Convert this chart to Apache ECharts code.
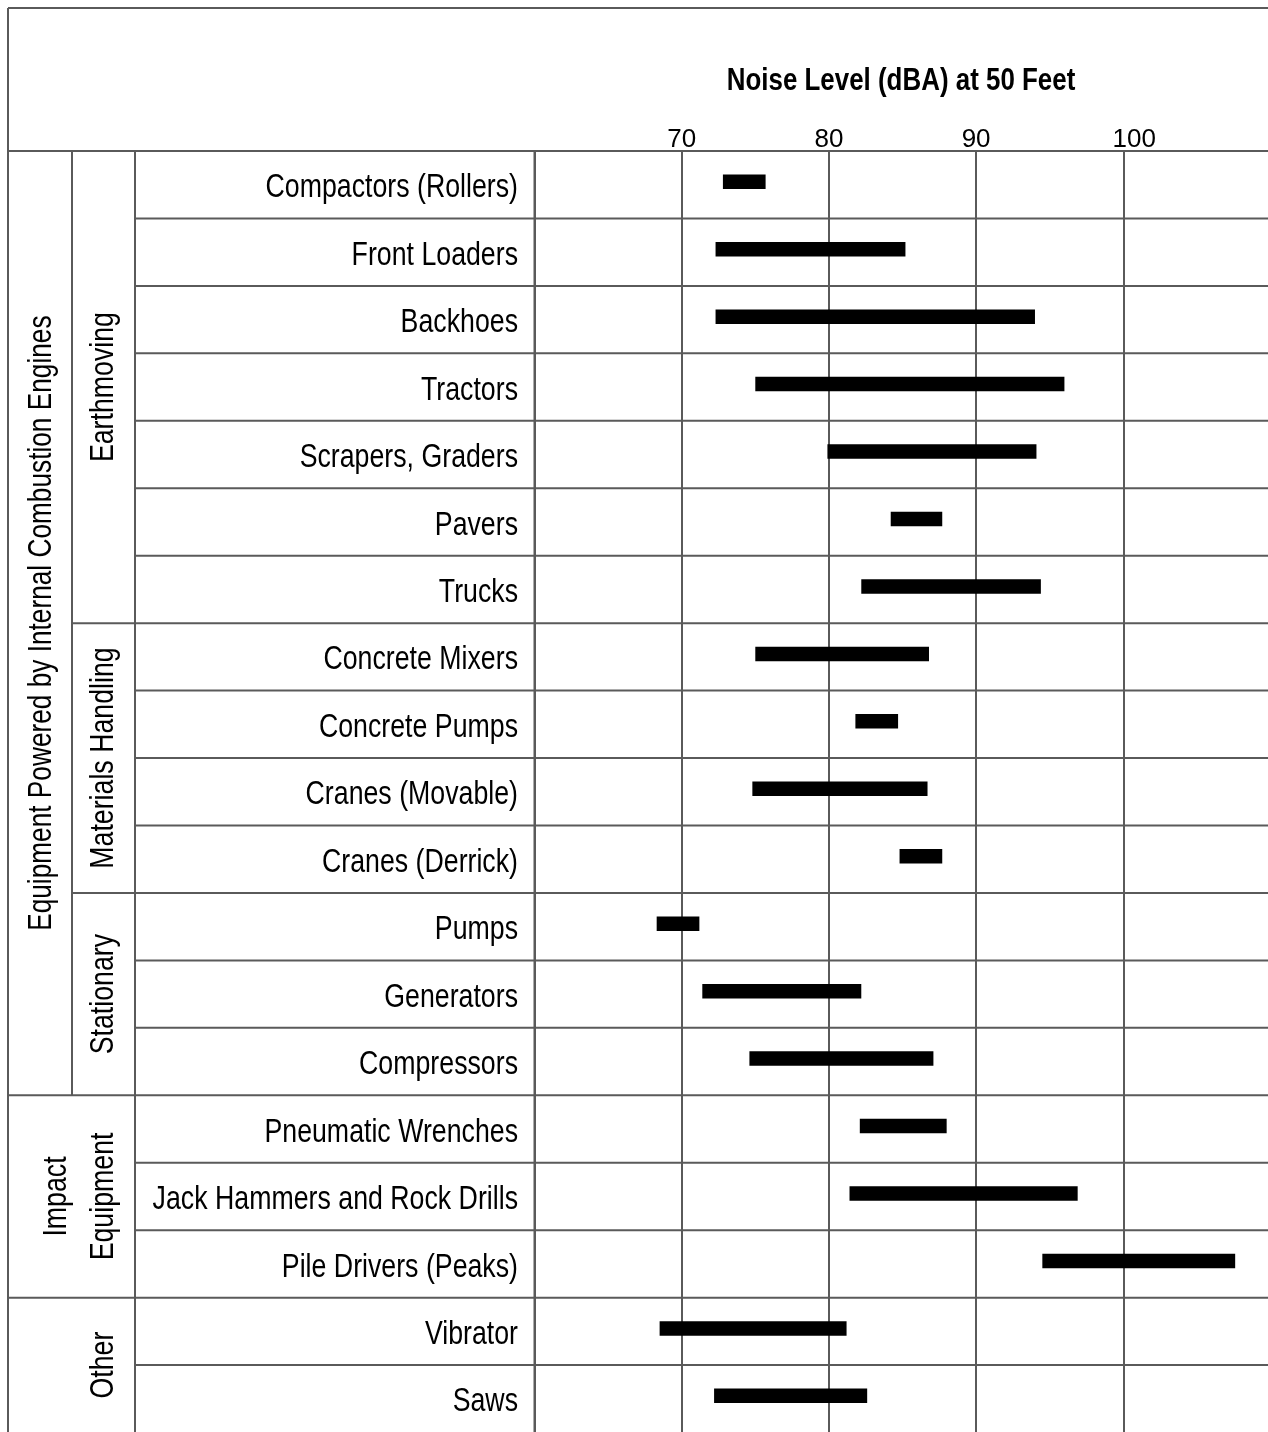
<!DOCTYPE html>
<html>
<head>
<meta charset="utf-8">
<script src="https://cdn.jsdelivr.net/npm/echarts@6/dist/echarts.min.js"></script>
<style>
html,body{margin:0;padding:0;background:#fff;overflow:hidden;}
#chart{width:1280px;height:1440px;}
</style>
</head>
<body>
<div id="chart"></div>
<script>
// ---- data ----
var categories = [
  'Compactors (Rollers)', 'Front Loaders', 'Backhoes', 'Tractors', 'Scrapers, Graders',
  'Pavers', 'Trucks', 'Concrete Mixers', 'Concrete Pumps', 'Cranes (Movable)',
  'Cranes (Derrick)', 'Pumps', 'Generators', 'Compressors', 'Pneumatic Wrenches',
  'Jack Hammers and Rock Drills', 'Pile Drivers (Peaks)', 'Vibrator', 'Saws'
];
var lowValues  = [72.8, 72.3, 72.3, 75.0, 79.9, 84.2, 82.2, 75.0, 81.8, 74.8, 84.8, 68.3, 71.4, 74.6, 82.1, 81.4, 94.5, 68.5, 72.2];
var highValues = [75.7, 85.2, 94.0, 96.0, 94.1, 87.7, 94.4, 86.8, 84.7, 86.7, 87.7, 71.2, 82.2, 87.1, 88.0, 96.9, 107.6, 81.2, 82.6];
var xTicks = [70, 80, 90, 100];
var axisTitle = 'Noise Level (dBA) at 50 Feet';
var outerGroups = [
  { lines: ['Equipment Powered by Internal Combustion Engines'], from: 0, to: 13 },
  { lines: ['Impact', 'Equipment'], from: 14, to: 16 },
  { lines: ['Other'], from: 17, to: 18 }
];
var innerGroups = [
  { text: 'Earthmoving', from: 0, to: 6 },
  { text: 'Materials Handling', from: 7, to: 10 },
  { text: 'Stationary', from: 11, to: 13 }
];

// ---- layout ----
var FONT = "'Liberation Sans', Arial, sans-serif";
var SX = 0.81;           // horizontal condensing of the narrow typeface
var W = 1280;
var TOP = 151, ROWH = 67.45, N = categories.length;
var COL0 = 8, COL1 = 72, COL2 = 135, COL3 = 534.5;
var LINE = '#5a5a5a';
function rowY(k) { return TOP + k * ROWH; }

var chart = echarts.init(document.getElementById('chart'), null, { renderer: 'canvas' });

var seriesData = categories.map(function (c, i) { return [i, lowValues[i], highValues[i]]; });

var option = {
  backgroundColor: '#fff',
  animation: false,
  grid: { left: COL3, top: TOP, width: 736, height: ROWH * N, containLabel: false },
  xAxis: {
    type: 'value', position: 'top', min: 60, max: 110, interval: 10,
    axisLine: { show: false }, axisTick: { show: false },
    axisLabel: {
      margin: -2, fontSize: 26, fontFamily: FONT, color: '#000',
      formatter: function (v) {
        if (xTicks.indexOf(v) < 0) return '';
        return v >= 100 ? '{s|' + v + '}' : String(v);
      },
      rich: { s: { fontSize: 26, fontFamily: FONT, color: '#000', padding: [0, 0, 0, 22] } }
    },
    splitLine: { show: true, lineStyle: { color: LINE, width: 2 } }
  },
  yAxis: {
    type: 'category', data: categories, inverse: true,
    axisLine: { show: false }, axisTick: { show: false },
    axisLabel: { show: false },
    splitLine: { show: false }
  },
  series: [{
    type: 'custom',
    data: seriesData,
    encode: { x: [1, 2], y: 0 },
    z: 20,
    renderItem: function (params, api) {
      var idx = api.value(0);
      var a = api.coord([api.value(1), idx]);
      var b = api.coord([api.value(2), idx]);
      var h = 14.5;
      return { type: 'rect',
        shape: { x: a[0], y: a[1] - 3 - h / 2, width: b[0] - a[0], height: h },
        style: { fill: '#000' } };
    }
  }]
};
chart.setOption(option);

var graphics = [];
function line(x1, y1, x2, y2, w) {
  graphics.push({ type: 'line', silent: true, z: 10,
    shape: { x1: x1, y1: y1, x2: x2, y2: y2 },
    style: { stroke: LINE, lineWidth: w || 2 } });
}
function text(t, x, y, size, opts) {
  opts = opts || {};
  graphics.push({ type: 'text', x: x, y: y, z: 11, silent: true,
    rotation: opts.rotation || 0, scaleX: opts.sx || SX, scaleY: 1,
    style: { text: t, font: (opts.bold ? 'bold ' : '') + size + 'px ' + FONT, fill: '#000',
      align: opts.align || 'center', verticalAlign: 'middle' } });
}
// frame
line(COL0, 8, W, 8);
line(COL0, 8, COL0, 1440);
line(COL0, TOP, W, TOP);
line(COL1, TOP, COL1, rowY(14));
line(COL2, TOP, COL2, 1440);
line(COL3, TOP, COL3, 1440);
for (var k = 1; k < N; k++) {
  var x0 = COL2;
  if (k === 7 || k === 11) x0 = COL1;
  if (k === 14 || k === 17) x0 = COL0;
  line(x0, rowY(k), W, rowY(k), 2);
}
// axis title
text(axisTitle, 901, 81, 32, { bold: true });
// category labels, placed at the category axis positions
categories.forEach(function (c) {
  var y = chart.convertToPixel({ yAxisIndex: 0 }, c);
  text(c, 518, y + 3.5, 33, { align: 'right' });
});
// group labels
outerGroups.forEach(function (g) {
  var cy = (rowY(g.from) + rowY(g.to + 1)) / 2;
  var xs = g.lines.length === 2 ? [57, 104] : (g.from === 0 ? [42] : [104]);
  g.lines.forEach(function (t, j) {
    text(t, xs[j], cy, 33, { rotation: Math.PI / 2, sx: g.from === 0 ? 0.795 : SX });
  });
});
innerGroups.forEach(function (g) {
  var cy = (rowY(g.from) + rowY(g.to + 1)) / 2;
  text(g.text, 104, cy, 33, { rotation: Math.PI / 2 });
});
chart.setOption({ graphic: graphics });
</script>
</body>
</html>
